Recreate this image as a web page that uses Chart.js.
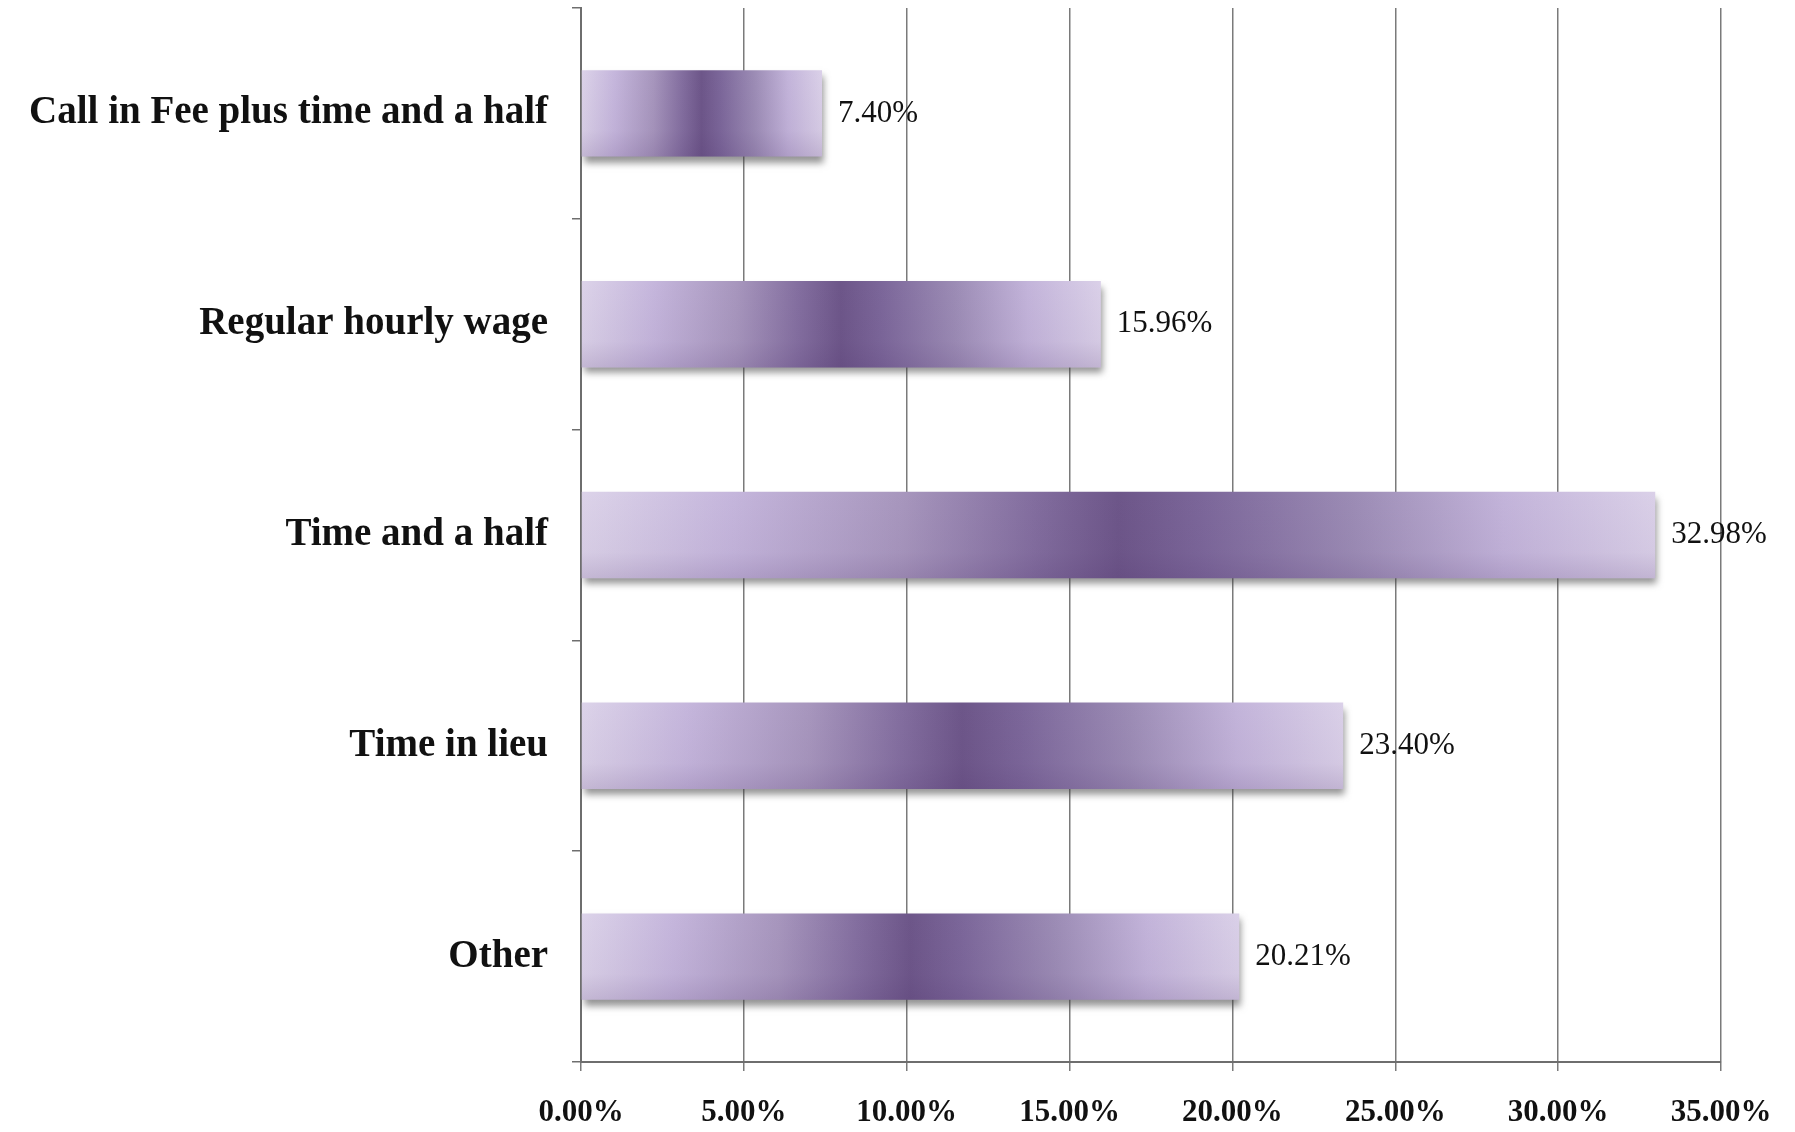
<!DOCTYPE html>
<html>
<head>
<meta charset="utf-8">
<script src="https://cdn.jsdelivr.net/npm/chart.js@4"></script>
<style>
  html, body { margin: 0; padding: 0; background: #fff; }
  #wrap { width: 1795px; height: 1132px; }
</style>
</head>
<body>
<div id="wrap"><canvas id="bar-chart"></canvas></div>
<script>
const categories = ['Call in Fee plus time and a half', 'Regular hourly wage', 'Time and a half', 'Time in lieu', 'Other'];
const shares = [7.40, 15.96, 32.98, 23.40, 20.21];
const xTicks = [0, 5, 10, 15, 20, 25, 30, 35];

const serif = '"Liberation Serif", "DejaVu Serif", serif';

// horizontal lavender -> purple -> lavender fade, per bar
function barFill(c) {
  const chart = c.chart;
  if (!chart.chartArea || !chart.scales.x) return '#9b88b3';
  const xs = chart.scales.x;
  const x0 = xs.getPixelForValue(0);
  const x1 = xs.getPixelForValue(c.raw);
  const g = chart.ctx.createLinearGradient(x0, 0, x1, 0);
  g.addColorStop(0, '#dcd3e9');
  g.addColorStop(0.14, '#c5b6dc');
  g.addColorStop(0.3, '#a796bd');
  g.addColorStop(0.42, '#836e9f');
  g.addColorStop(0.5, '#6d5689');
  g.addColorStop(0.58, '#7c679a');
  g.addColorStop(0.72, '#9c8cb5');
  g.addColorStop(0.86, '#c3b4da');
  g.addColorStop(1, '#dad0e8');
  return g;
}

const barShadow = {
  id: 'barShadow',
  beforeDatasetsDraw(chart) {
    const ctx = chart.ctx;
    ctx.save();
    ctx.shadowColor = 'rgba(60,60,60,0.55)';
    ctx.shadowBlur = 7;
    ctx.shadowOffsetX = 2;
    ctx.shadowOffsetY = 6;
  },
  afterDatasetsDraw(chart) {
    const ctx = chart.ctx;
    ctx.restore();
    // darker band toward the bottom of each bar
    chart.getDatasetMeta(0).data.forEach(bar => {
      const top = bar.y - bar.height / 2;
      const g = ctx.createLinearGradient(0, top, 0, top + bar.height);
      g.addColorStop(0, 'rgba(70,40,100,0)');
      g.addColorStop(0.7, 'rgba(70,40,100,0.04)');
      g.addColorStop(1, 'rgba(70,40,100,0.16)');
      ctx.save();
      ctx.fillStyle = g;
      ctx.fillRect(bar.base, top, bar.x - bar.base, bar.height);
      ctx.restore();
    });
    // value labels
    ctx.save();
    ctx.font = '31px ' + serif;
    ctx.fillStyle = '#111';
    ctx.textBaseline = 'middle';
    chart.getDatasetMeta(0).data.forEach((bar, i) => {
      ctx.fillText(shares[i].toFixed(2) + '%', bar.x + 16, bar.y);
    });
    ctx.restore();
  }
};

new Chart(document.getElementById('bar-chart'), {
  type: 'bar',
  data: {
    labels: categories,
    datasets: [{
      data: shares,
      backgroundColor: barFill,
      borderWidth: 0,
      categoryPercentage: 0.41,
      barPercentage: 1
    }]
  },
  options: {
    indexAxis: 'y',
    responsive: true,
    maintainAspectRatio: false,
    animation: false,
    layout: { padding: { top: 8, right: 74, left: 0, bottom: 0 } },
    scales: {
      x: {
        min: 0,
        max: 35,
        afterBuildTicks: scale => { scale.ticks = xTicks.map(v => ({ value: v })); },
        afterFit: scale => { scale.height = 70; },
        border: { color: '#6e6e6e', width: 2 },
        grid: { color: '#7a7a7a', lineWidth: 1.5, tickLength: 9, drawTicks: true },
        ticks: {
          padding: 23,
          color: '#111',
          font: { family: serif, size: 31, weight: 'bold' },
          callback: v => v.toFixed(2) + '%'
        }
      },
      y: {
        afterFit: scale => {
          scale.width = 581;
          scale.paddingTop = 0;
          scale.paddingBottom = 0;
        },
        border: { color: '#6e6e6e', width: 2 },
        grid: { drawOnChartArea: false, color: '#6e6e6e', lineWidth: 1.5, tickLength: 9, offset: true },
        ticks: {
          padding: 24,
          color: '#111',
          font: { family: serif, size: 39, weight: 'bold' }
        }
      }
    },
    plugins: {
      legend: { display: false },
      tooltip: { enabled: false }
    }
  },
  plugins: [barShadow]
});
</script>
</body>
</html>
